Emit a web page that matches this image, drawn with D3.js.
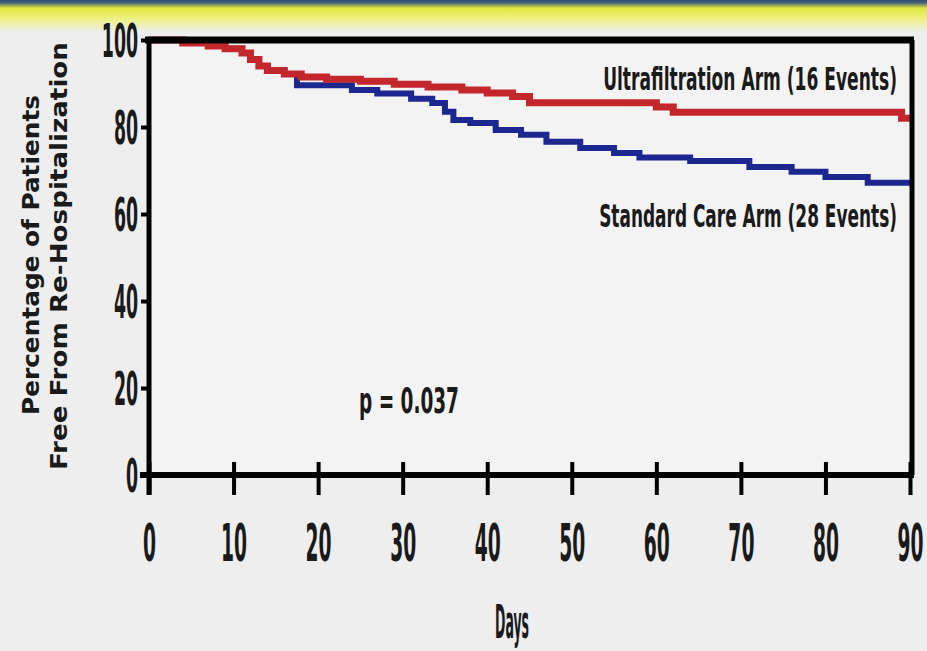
<!DOCTYPE html>
<html>
<head>
<meta charset="utf-8">
<script src="https://cdn.jsdelivr.net/npm/d3@7"></script>
<style>
  html, body { margin: 0; padding: 0; background: #eeeeee; }
  svg { display: block; }
  text { font-family: "DejaVu Sans Condensed", "DejaVu Sans", sans-serif; fill: #1a1a1a; }
</style>
</head>
<body>
<div id="chart"></div>
<script>

	// Kaplan-Meier steps (day, % free from re-hospitalization)
	var ufDays = [0, 4, 7, 9, 11, 12, 13, 14, 16, 18, 21, 25, 29, 33, 37, 40, 43, 45, 60, 62, 89, 90];
	var ufPct  = [100, 99.3, 98.6, 98, 97, 95.5, 94, 93, 92.2, 91.5, 91, 90.5, 89.8, 89.2, 88.5, 87.8, 87, 85.6, 84.6, 83.4, 82, 81.5];

	var scDays = [0, 4, 7, 9, 11, 12, 13, 14, 16, 17.5, 24, 27, 31, 33.5, 35, 36, 38, 41, 44, 47, 51, 55, 58, 64, 71, 76, 80, 85, 90];
	var scPct  = [100, 99.3, 98.6, 98, 97, 95.5, 94, 93, 92.2, 89.6, 88.5, 87.7, 86.5, 85.5, 83.5, 81.6, 80.9, 79.3, 78.2, 76.6, 75.2, 74, 73, 72.2, 70.8, 69.7, 68.5, 67.2, 67.2];

	var xTicks = [0, 10, 20, 30, 40, 50, 60, 70, 80, 90];
	var yTicks = [0, 20, 40, 60, 80, 100];

	var ufLabel = "Ultrafiltration Arm (16 Events)";
	var scLabel = "Standard Care Arm (28 Events)";
	var pLabel = "p = 0.037";

	var width = 927, height = 651;

	var svg = d3.select("#chart").append("svg")
		.attr("width", width)
		.attr("height", height);

	// squeeze a text horizontally so it spans w pixels (the reference font is very condensed)
	function squeeze(sel, w, ax, ay){
		sel.each(function(){
			var len = this.getComputedTextLength();
			var k = len > 0 ? w / len : 1;
			d3.select(this).attr("transform", "translate(" + ax + "," + ay + ") scale(" + k + ",1)");
		});
	}

	// top band: navy strip fading through yellow into the grey page
	var grad = svg.append("defs").append("linearGradient")
		.attr("id", "band").attr("x1", 0).attr("y1", 0).attr("x2", 0).attr("y2", 1);
	grad.append("stop").attr("offset", "0").attr("stop-color", "#2d4a78");
	grad.append("stop").attr("offset", "0.08").attr("stop-color", "#45607a");
	grad.append("stop").attr("offset", "0.25").attr("stop-color", "#dfe33c");
	grad.append("stop").attr("offset", "0.55").attr("stop-color", "#eef07a");
	grad.append("stop").attr("offset", "1").attr("stop-color", "#eeeeee");
	svg.append("rect").attr("width", width).attr("height", 32).attr("fill", "url(#band)");

	var x = d3.scaleLinear().domain([0, 90]).range([149, 910]);
	var y = d3.scaleLinear().domain([0, 100]).range([475, 40]);

	// plot area
	svg.append("rect")
		.attr("x", x(0)).attr("y", y(100))
		.attr("width", x(90) - x(0)).attr("height", y(0) - y(100))
		.attr("fill", "#f3f3f3");

	var line = d3.line()
		.x(function(d){ return x(d[0]); })
		.y(function(d){ return y(d[1]); })
		.curve(d3.curveStepAfter);

	var scData = scDays.map(function(d, i){ return [d, scPct[i]]; });
	var ufData = ufDays.map(function(d, i){ return [d, ufPct[i]]; });

	svg.append("path").datum(scData)
		.attr("d", line)
		.attr("fill", "none")
		.attr("stroke", "#1c2790")
		.attr("stroke-width", 6);

	svg.append("path").datum(ufData)
		.attr("d", line)
		.attr("fill", "none")
		.attr("stroke", "#c4272b")
		.attr("stroke-width", 7);

	// frame: top and right borders
	svg.append("line")
		.attr("x1", x(0) - 4).attr("x2", x(90) + 4)
		.attr("y1", y(100)).attr("y2", y(100))
		.attr("stroke", "#000").attr("stroke-width", 7);
	svg.append("line")
		.attr("x1", x(90) + 2).attr("x2", x(90) + 2)
		.attr("y1", y(100)).attr("y2", y(0))
		.attr("stroke", "#000").attr("stroke-width", 5);

	// x axis
	var xAxis = svg.append("g")
		.attr("transform", "translate(0," + y(0) + ")")
		.call(d3.axisBottom(x).tickValues(xTicks).tickSize(0).tickPadding(0).tickFormat(d3.format("d")));
	xAxis.select(".domain").remove();
	xAxis.append("line")
		.attr("x1", x(0) - 9).attr("x2", x(90) + 4)
		.attr("stroke", "#000").attr("stroke-width", 6);
	xAxis.selectAll(".tick").append("line")
		.attr("y1", -13).attr("y2", 20)
		.attr("stroke", "#000").attr("stroke-width", 4);
	xAxis.selectAll(".tick text")
		.attr("y", 86).attr("dy", null)
		.attr("transform", "scale(0.4,1)")
		.style("font-size", "52px")
		.style("font-weight", "bold")
		.attr("fill", "#1a1a1a");

	// y axis
	var yAxis = svg.append("g")
		.attr("transform", "translate(" + x(0) + ",0)")
		.call(d3.axisLeft(y).tickValues(yTicks).tickSize(0).tickPadding(0));
	yAxis.select(".domain").remove();
	yAxis.append("line")
		.attr("y1", y(100) - 3).attr("y2", y(0) + 20)
		.attr("stroke", "#000").attr("stroke-width", 5);
	yAxis.selectAll(".tick").append("line")
		.attr("x1", -8).attr("x2", 0)
		.attr("stroke", "#000").attr("stroke-width", 4);
	yAxis.selectAll(".tick text")
		.attr("x", -26).attr("dy", "0.36em")
		.attr("transform", "scale(0.42,1)")
		.style("font-size", "46px")
		.style("font-weight", "bold")
		.attr("fill", "#1a1a1a");

	// axis titles
	var daysText = svg.append("text")
		.attr("text-anchor", "middle")
		.style("font-size", "46px").style("font-weight", "bold")
		.text("Days");
	squeeze(daysText, 34, 512, 638);

	svg.append("text")
		.attr("transform", "translate(39,255) rotate(-90)")
		.attr("text-anchor", "middle")
		.attr("textLength", 320).attr("lengthAdjust", "spacingAndGlyphs")
		.style("font-size", "23px").style("font-weight", "bold")
		.text("Percentage of Patients");

	svg.append("text")
		.attr("transform", "translate(67,256) rotate(-90)")
		.attr("text-anchor", "middle")
		.attr("textLength", 428).attr("lengthAdjust", "spacingAndGlyphs")
		.style("font-size", "23px").style("font-weight", "bold")
		.text("Free From Re-Hospitalization");

	// series labels and p value
	var ufText = svg.append("text")
		.attr("text-anchor", "end")
		.style("font-size", "32px").style("font-weight", "bold")
		.text(ufLabel);
	squeeze(ufText, 294, 897, 90);

	var scText = svg.append("text")
		.attr("text-anchor", "end")
		.style("font-size", "32px").style("font-weight", "bold")
		.text(scLabel);
	squeeze(scText, 298, 897, 227);

	var pText = svg.append("text")
		.style("font-size", "36px").style("font-weight", "bold")
		.text(pLabel);
	squeeze(pText, 100, 359, 413);

</script>
</body>
</html>
